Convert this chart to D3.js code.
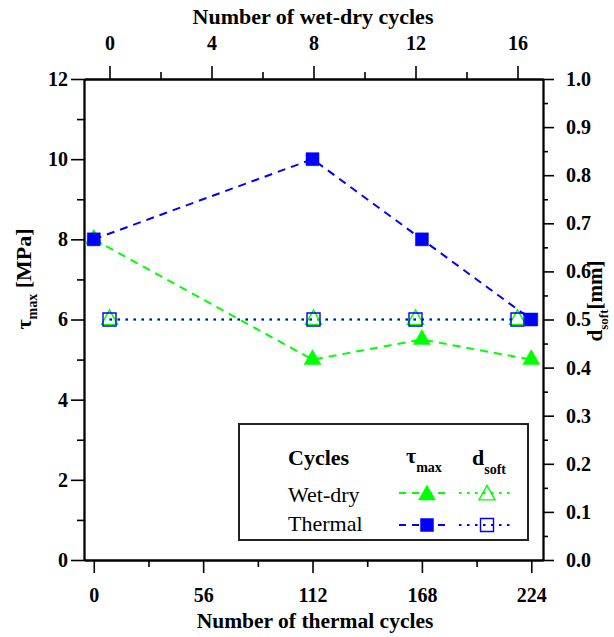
<!DOCTYPE html>
<html>
<head>
<meta charset="utf-8">
<script src="https://cdn.jsdelivr.net/npm/d3@7"></script>
<style>
  html, body { margin: 0; padding: 0; background: #fff; }
  svg { display: block; }
  text { font-family: 'Liberation Serif', 'Times New Roman', Tinos, 'DejaVu Serif', serif; fill: #000; }
</style>
</head>
<body>
<svg id="chart" width="614" height="637"></svg>
<script>
// ---- data ----
const thermalCycles = [0, 112, 168, 224];
const wetDryCycles = [0, 8, 12, 16];
const tauWetDry = [8, 5, 5.5, 5];
const tauThermal = [8, 10, 8, 6];
const dsoftWetDry = [0.5, 0.5, 0.5, 0.5];
const dsoftThermal = [0.5, 0.5, 0.5, 0.5];
const bottomTicks = [0, 56, 112, 168, 224];
const topTicks = [0, 4, 8, 12, 16];
const leftTicks = [0, 2, 4, 6, 8, 10, 12];
const rightTicks = [0, 0.1, 0.2, 0.3, 0.4, 0.5, 0.6, 0.7, 0.8, 0.9, 1.0];

const GREEN = "#00ff00", BLUE = "#0000ff";
const FONT = "'Liberation Serif', 'Times New Roman', Tinos, 'DejaVu Serif', serif";
const svg = d3.select("#chart");
const L = 84, R = 543, T = 79, B = 560;

const xB = d3.scaleLinear().domain([-5, 230]).range([L, R]);
const xT = d3.scaleLinear().domain([-1, 17]).range([L, R]);
const yL = d3.scaleLinear().domain([0, 12]).range([B, T]);
const yR = d3.scaleLinear().domain([0, 1]).range([B, T]);

// ---- axes ----
function styleAxis(g, fs) {
  g.selectAll("path.domain").attr("stroke", "#000").attr("stroke-width", 1.8);
  g.selectAll(".tick line").attr("stroke", "#000").attr("stroke-width", 1.6);
  g.selectAll(".tick text").attr("font-size", fs).attr("font-weight", "bold")
    .attr("font-family", FONT).attr("fill", "#000");
}
// minor ticks
const minorB = [28, 84, 140, 196];
const minorT = [2, 6, 10, 14];
const minorL = [1, 3, 5, 7, 9, 11];
const minorR = [0.05, 0.15, 0.25, 0.35, 0.45, 0.55, 0.65, 0.75, 0.85, 0.95];

svg.append("g").attr("transform", `translate(0,${B})`)
  .call(d3.axisBottom(xB).tickValues(minorB).tickFormat("").tickSize(7).tickSizeOuter(0))
  .call(g => styleAxis(g, 20));
svg.append("g").attr("transform", `translate(0,${T})`)
  .call(d3.axisTop(xT).tickValues(minorT).tickFormat("").tickSize(7).tickSizeOuter(0))
  .call(g => styleAxis(g, 20));
svg.append("g").attr("transform", `translate(${L},0)`)
  .call(d3.axisLeft(yL).tickValues(minorL).tickFormat("").tickSize(7).tickSizeOuter(0))
  .call(g => styleAxis(g, 20));
svg.append("g").attr("transform", `translate(${R},0)`)
  .call(d3.axisRight(yR).tickValues(minorR).tickFormat("").tickSize(5).tickSizeOuter(0))
  .call(g => styleAxis(g, 20));

svg.append("g").attr("transform", `translate(0,${B})`)
  .call(d3.axisBottom(xB).tickValues(bottomTicks).tickFormat(d3.format("d")).tickSize(13).tickPadding(15).tickSizeOuter(0))
  .call(g => styleAxis(g, 20));
svg.append("g").attr("transform", `translate(0,${T})`)
  .call(d3.axisTop(xT).tickValues(topTicks).tickFormat(d3.format("d")).tickSize(13).tickPadding(16).tickSizeOuter(0))
  .call(g => styleAxis(g, 20));
svg.append("g").attr("transform", `translate(${L},0)`)
  .call(d3.axisLeft(yL).tickValues(leftTicks).tickFormat(d3.format("d")).tickSize(13).tickPadding(3).tickSizeOuter(0))
  .call(g => styleAxis(g, 20));
svg.append("g").attr("transform", `translate(${R},0)`)
  .call(d3.axisRight(yR).tickValues(rightTicks).tickFormat(d3.format(".1f")).tickSize(11).tickPadding(12).tickSizeOuter(0))
  .call(g => styleAxis(g, 20));

// ---- titles ----
svg.append("text").attr("x", 313).attr("y", 24).attr("text-anchor", "middle")
  .attr("font-size", 22).attr("font-weight", "bold").text("Number of wet-dry cycles");
svg.append("text").attr("x", 315).attr("y", 628).attr("text-anchor", "middle")
  .attr("font-size", 21.5).attr("font-weight", "bold").text("Number of thermal cycles");

const lt = svg.append("text").attr("transform", "translate(31,279) rotate(-90)")
  .attr("text-anchor", "middle").attr("font-size", 22).attr("font-weight", "bold");
lt.append("tspan").text("τ");
lt.append("tspan").attr("font-size", 14).attr("dy", 6).text("max");
lt.append("tspan").attr("dy", -6).text(" [MPa]");

const rt = svg.append("text").attr("transform", "translate(602,301) rotate(-90)")
  .attr("text-anchor", "middle").attr("font-size", 21).attr("font-weight", "bold");
rt.append("tspan").text("d");
rt.append("tspan").attr("font-size", 13).attr("dy", 6).text("soft");
rt.append("tspan").attr("dy", -6).text("[mm]");

// ---- markers ----
function triPath(w, h) {
  return `M0,${-2 * h / 3}L${w / 2},${h / 3}L${-w / 2},${h / 3}Z`;
}
function sqPath(s) {
  return `M${-s / 2},${-s / 2}h${s}v${s}h${-s}Z`;
}
function drawTri(g, x, y, filled) {
  g.append("path").attr("d", filled ? triPath(17, 15) : triPath(16, 14.5))
    .attr("transform", `translate(${x},${y})`)
    .attr("fill", filled ? GREEN : "none").attr("stroke", GREEN).attr("stroke-width", filled ? 0.5 : 1.4);
}
function drawSq(g, x, y, filled) {
  g.append("path").attr("d", sqPath(13))
    .attr("transform", `translate(${x},${y})`)
    .attr("fill", filled ? BLUE : "none").attr("stroke", BLUE).attr("stroke-width", filled ? 0.5 : 1.4);
}

const plot = svg.append("g");
const lineB = d3.line().x(d => xB(d[0])).y(d => yL(d[1]));
const lineT = d3.line().x(d => xT(d[0])).y(d => yR(d[1]));

const tauWD = thermalCycles.map((c, i) => [c, tauWetDry[i]]);
const tauTH = thermalCycles.map((c, i) => [c, tauThermal[i]]);
const dsWD = wetDryCycles.map((c, i) => [c, dsoftWetDry[i]]);
const dsTH = wetDryCycles.map((c, i) => [c, dsoftThermal[i]]);

plot.append("path").attr("d", lineB(tauWD)).attr("fill", "none").attr("stroke", GREEN)
  .attr("stroke-width", 2).attr("stroke-dasharray", "8,6");
plot.append("path").attr("d", lineB(tauTH)).attr("fill", "none").attr("stroke", BLUE)
  .attr("stroke-width", 2).attr("stroke-dasharray", "8,6");
plot.append("path").attr("d", lineT(dsWD)).attr("fill", "none").attr("stroke", GREEN)
  .attr("stroke-width", 2.2).attr("stroke-dasharray", "2.5,5.5");
plot.append("path").attr("d", lineT(dsTH)).attr("fill", "none").attr("stroke", BLUE)
  .attr("stroke-width", 2.2).attr("stroke-dasharray", "2.5,5.5");

tauWD.forEach(d => drawTri(plot, xB(d[0]), yL(d[1]), true));
dsWD.forEach(d => drawTri(plot, xT(d[0]), yR(d[1]), false));
tauTH.forEach(d => drawSq(plot, xB(d[0]), yL(d[1]), true));
dsTH.forEach(d => drawSq(plot, xT(d[0]), yR(d[1]), false));

// ---- legend ----
const lg = svg.append("g");
lg.append("rect").attr("x", 239).attr("y", 424).attr("width", 289).attr("height", 116)
  .attr("fill", "#fff").attr("stroke", "#222").attr("stroke-width", 2);
lg.append("text").attr("x", 288).attr("y", 465).attr("font-size", 22).attr("font-weight", "bold").text("Cycles");
lg.append("text").attr("x", 288).attr("y", 502).attr("font-size", 22).text("Wet-dry");
lg.append("text").attr("x", 288).attr("y", 531).attr("font-size", 22).text("Thermal");
const h1 = lg.append("text").attr("x", 406).attr("y", 463).attr("font-size", 22).attr("font-weight", "bold");
h1.append("tspan").text("τ");
h1.append("tspan").attr("font-size", 14).attr("dy", 9).text("max");
const h2 = lg.append("text").attr("x", 472).attr("y", 465).attr("font-size", 22).attr("font-weight", "bold");
h2.append("tspan").text("d");
h2.append("tspan").attr("font-size", 14).attr("dy", 9).text("soft");

const legendRows = [
  {y: 493, color: GREEN, marker: drawTri, off: 2},
  {y: 525, color: BLUE, marker: drawSq, off: 0}
];
legendRows.forEach(r => {
  lg.append("line").attr("x1", 399).attr("x2", 448).attr("y1", r.y).attr("y2", r.y)
    .attr("stroke", r.color).attr("stroke-width", 2).attr("stroke-dasharray", "7,6");
  lg.append("line").attr("x1", 459).attr("x2", 513).attr("y1", r.y).attr("y2", r.y)
    .attr("stroke", r.color).attr("stroke-width", 2.2).attr("stroke-dasharray", "2.5,5.5");
  r.marker(lg, 427, r.y + r.off, true);
  r.marker(lg, 487, r.y + r.off, false);
});
</script>
</body>
</html>
